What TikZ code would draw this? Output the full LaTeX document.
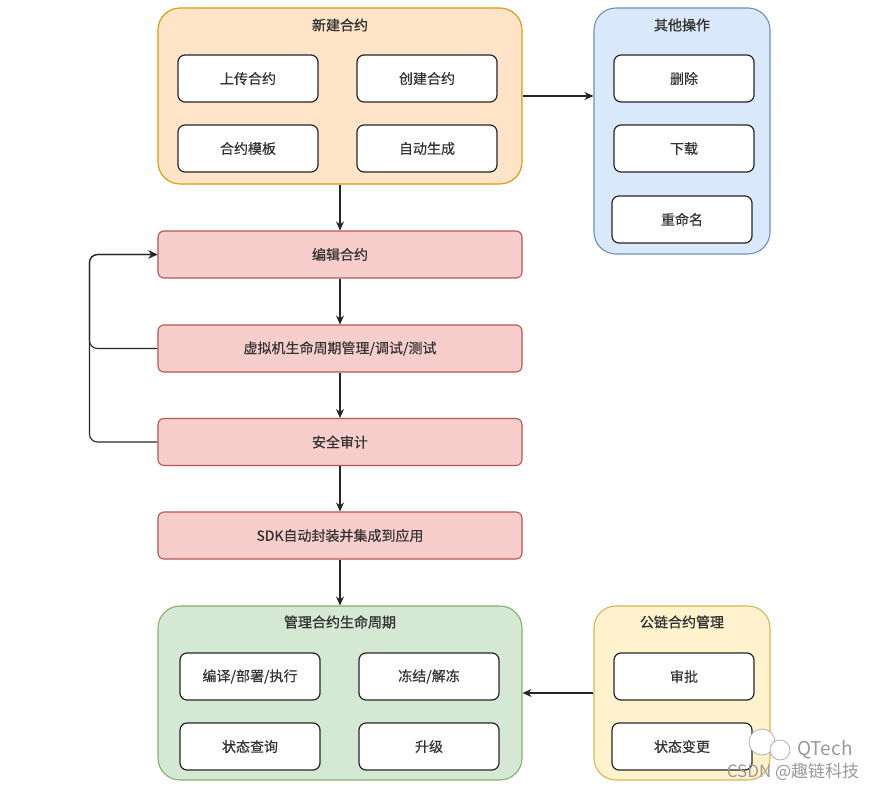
\documentclass[tikz,border=0pt]{standalone}
\usepackage{fontspec}
\newfontfamily\cjk{Noto Sans CJK SC}[FakeBold=0.4]
\newfontfamily\cjkhead{Noto Sans CJK SC}[FakeBold=1.1]
\newfontfamily\cjklight{Noto Sans CJK SC}
\usetikzlibrary{arrows.meta,positioning}
\definecolor{orfill}{HTML}{FFE4C8}\definecolor{orline}{HTML}{D79B00}
\definecolor{blfill}{HTML}{DAE8FC}\definecolor{blline}{HTML}{6C8EBF}
\definecolor{pkfill}{HTML}{F8CECC}\definecolor{pkline}{HTML}{B85450}
\definecolor{grfill}{HTML}{D5E8D4}\definecolor{grline}{HTML}{82B366}
\definecolor{yefill}{HTML}{FFF2CC}\definecolor{yeline}{HTML}{D6B656}

\begin{document}
\begin{tikzpicture}[x=1pt,y=-1pt,
  group/.style={rounded corners=22pt,line width=1.1pt},
  item/.style={draw=black!85,fill=white,rounded corners=7pt,line width=1.2pt,
    minimum width=140pt,minimum height=47pt,text=black!80,font=\cjk\fontsize{14}{16}\selectfont},
  stage/.style={draw=pkline,fill=pkfill,rounded corners=6pt,line width=1.1pt,
    minimum width=364pt,minimum height=47pt,text=black!80,font=\cjk\fontsize{14}{16}\selectfont},
  title/.style={text=black!80,font=\cjkhead\fontsize{14}{16}\selectfont},
  flow/.style={-{Stealth[length=9pt,width=8pt]},line width=1.1pt,black!85},
  mark text/.style={text=black!40}]
  \useasboundingbox (0,0) rectangle (883,791);

  % new contract
  \node[group,draw=orline,fill=orfill,minimum width=364pt,minimum height=176pt] (new) at (340,96) {};
  \node[title] (newt) at (340,25) {新建合约};
  \node[item] (upload) at (248,78.5) {上传合约};
  \node[item] (create) at (427,78.5) {创建合约};
  \node[item] (tmpl) at (248,148.5) {合约模板};
  \node[item] (auto) at (427,148.5) {自动生成};

  % other operations
  \node[group,draw=blline,fill=blfill,minimum width=176pt,minimum height=246pt] (other) at (682,131) {};
  \node[title] (othert) at (682,25) {其他操作};
  \node[item] (delete) at (684,78.5) {删除};
  \node[item] (download) at (684,148.5) {下载};
  \node[item] (rename) at (682,219.5) {重命名};

  % main flow
  \node[stage] (edit) at (340,254.5) {编辑合约};
  \node[stage] (vm) at (340,348.5) {虚拟机生命周期管理/调试/测试};
  \node[stage] (audit) at (340,442) {安全审计};
  \node[stage] (sdk) at (340,535.5) {SDK自动封装并集成到应用};

  % lifecycle
  \node[group,draw=grline,fill=grfill,minimum width=364pt,minimum height=174pt] (manage) at (340,693) {};
  \node[title] (managet) at (340,622) {管理合约生命周期};
  \node[item] (deploy) at (250,676.5) {编译/部署/执行};
  \node[item] (freeze) at (429,676.5) {冻结/解冻};
  \node[item] (query) at (250,746.5) {状态查询};
  \node[item] (upgrade) at (429,746.5) {升级};

  % public chain
  \node[group,draw=yeline,fill=yefill,minimum width=176pt,minimum height=174pt] (chain) at (682,693) {};
  \node[title] (chaint) at (682,622) {公链合约管理};
  \node[item] (approve) at (684,676.5) {审批};
  \node[item] (change) at (682,746.5) {状态变更};

  \draw[flow] (new.east) -- (new.east -| other.west);
  \draw[flow] (new) -- (edit);
  \draw[flow] (edit) -- (vm);
  \draw[flow] (vm) -- (audit);
  \draw[flow] (audit) -- (sdk);
  \draw[flow] (sdk) -- (manage);
  \draw[flow] (chain.west) -- (manage.east);
  \draw[flow,rounded corners=8pt] (vm.west) -- ++(-68,0) |- (edit.west);
  \draw[flow,rounded corners=8pt] (audit.west) -- ++(-68,0) |- (edit.west);

  % watermark
  \draw[black!30,fill=white,line width=0.8pt] (762,742) circle (13pt);
  \draw[black!30,fill=white,line width=0.8pt] (780,750) circle (10pt);
  \node[mark text,font=\cjklight\fontsize{19}{21}\selectfont] (qtech) at (825,750) {QTech};
  \node[mark text,font=\cjklight\fontsize{17}{19}\selectfont] (csdn) at (793,772) {CSDN @趣链科技};
\end{tikzpicture}
\end{document}
